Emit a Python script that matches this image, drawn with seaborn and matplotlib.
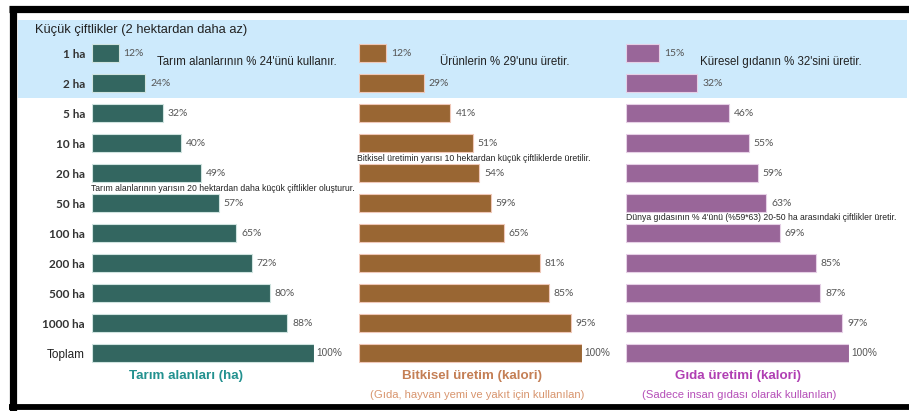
import matplotlib
matplotlib.use("Agg")
import matplotlib.pyplot as plt
import seaborn as sns
import pandas as pd
from matplotlib.patches import Rectangle
from matplotlib.lines import Line2D

categories = ["1 ha", "2 ha", "5 ha", "10 ha", "20 ha", "50 ha", "100 ha",
              "200 ha", "500 ha", "1000 ha", "Toplam"]
tarim = [12, 24, 32, 40, 49, 57, 65, 72, 80, 88, 100]
bitkisel = [12, 29, 41, 51, 54, 59, 65, 81, 85, 95, 100]
gida = [15, 32, 46, 55, 59, 63, 69, 85, 87, 97, 100]

titles = ["Tarım alanları (ha)", "Bitkisel üretim (kalori)", "Gıda üretimi (kalori)"]
subtitles = ["", "(Gıda, hayvan yemi ve yakıt için kullanılan)",
             "(Sadece insan gıdası olarak kullanılan)"]
top_notes = ["Tarım alanlarının % 24'ünü kullanır.", "Ürünlerin % 29'unu üretir.",
             "Küresel gıdanın % 32'sini üretir."]
band_title = "Küçük çiftlikler (2 hektardan daha az)"
notes = ["Tarım alanlarının yarısın 20 hektardan daha küçük çiftlikler oluşturur.",
         "Bitkisel üretimin yarısı 10 hektardan küçük çiftliklerde üretilir.",
         "Dünya gıdasının % 4'ünü (%59*63) 20-50 ha arasındaki çiftlikler üretir."]

sns.set_style("white")
plt.rcParams["font.family"] = ["Liberation Sans", "DejaVu Sans"]

W, H = 909, 411
fig = plt.figure(figsize=(W / 100, H / 100), dpi=100)
fig.patch.set_facecolor("white")

def fx(px):
    return px / W

def fy(py):
    return 1 - py / H

# light blue band (behind the axes)
band = Rectangle((fx(18), fy(98)), fx(907) - fx(18), fy(20) - fy(98),
                 transform=fig.transFigure, facecolor="#cdeafc",
                 edgecolor="none", zorder=-10)
fig.patches.append(band)

# border
for (x0, y0, x1, y1, lw) in [(9, 9.5, 909, 9.5, 5.2), (12.5, 6, 12.5, 411, 5.2),
                             (9, 407, 909, 407, 4.2)]:
    fig.lines.append(Line2D([fx(x0), fx(x1)], [fy(y0), fy(y1)],
                            transform=fig.transFigure, color="black", lw=lw,
                            solid_capstyle="butt", zorder=5))

colors = ["#336660", "#996633", "#996699"]
edges = ["#cfe3df", "#f0c8b8", "#e6d0e6"]
title_colors = ["#22918f", "#c47f55", "#b03fb3"]
sub_colors = ["#22918f", "#d8956e", "#b54fb8"]
lefts = [92, 359, 626]
widths = [222, 223, 223]
series = [tarim, bitkisel, gida]
title_x = [186, 472, 738]
sub_x = [186, 477, 739]
note_rows = [4.53, 3.53, 5.48]
note_dx = [-1, -2, 0]

top_px, bot_px = 38, 368
narrow = ["Liberation Sans Narrow", "Liberation Sans", "DejaVu Sans"]

for i in range(3):
    ax = fig.add_axes([fx(lefts[i]), fy(bot_px), widths[i] / W, (bot_px - top_px) / H])
    ax.patch.set_alpha(0)
    ax.set_zorder(1)
    df = pd.DataFrame({"cat": categories, "val": series[i]})
    sns.barplot(data=df, x="val", y="cat", ax=ax, color=colors[i], width=0.6,
                edgecolor=edges[i], linewidth=0.8, saturation=1, orient="h")
    ax.set_xlim(0, 100)
    ax.set_ylim(len(categories) - 0.5, -0.5)
    for s in ax.spines.values():
        s.set_visible(False)
    ax.set_xticks([])
    ax.set_xlabel("")
    ax.set_ylabel("")
    ax.tick_params(left=False, length=0)
    if i == 0:
        ax.set_yticks(range(len(categories)))
        ax.set_yticklabels(categories)
        ax.tick_params(axis="y", pad=5)
        for j, t in enumerate(ax.get_yticklabels()):
            if categories[j] == "Toplam":
                t.set_fontfamily(narrow)
                t.set_fontsize(8.5)
                t.set_color("#222222")
            else:
                t.set_fontfamily(["Lato", "DejaVu Sans"])
                t.set_fontweight("bold")
                t.set_fontsize(8.5)
                t.set_color("#333333")
    else:
        ax.set_yticks([])
    for j, v in enumerate(series[i]):
        if categories[j] == "Toplam":
            ax.annotate(f"{v}%", (v, j), xytext=(2, 0), textcoords="offset pixels",
                        ha="left", va="center", fontsize=7.2, color="#555555",
                        family=narrow, annotation_clip=False)
        else:
            ax.annotate(f"{v}%", (v, j), xytext=(5, 0), textcoords="offset pixels",
                        ha="left", va="center", fontsize=7.5, color="#555555",
                        family=["Lato", "DejaVu Sans"], annotation_clip=False)
    # half-way note, placed between rows
    ax.annotate(notes[i], (0, note_rows[i]), xytext=(note_dx[i], 0),
                textcoords="offset pixels", ha="left", va="center",
                fontsize=6.2, color="#222222", annotation_clip=False)
    fig.text(fx(title_x[i]), fy(376), titles[i], ha="center", va="center",
             fontsize=9.6, fontweight="bold", color=title_colors[i], family=narrow)
    if subtitles[i]:
        fig.text(fx(sub_x[i]), fy(395), subtitles[i], ha="center", va="center",
                 fontsize=8.1, color=sub_colors[i], family=narrow)

# annotations
fig.text(fx(35), fy(30), band_title, ha="left", va="center", fontsize=9.3, color="#222222")
for x, t in zip([157, 440, 700], top_notes):
    fig.text(fx(x), fy(62), t, ha="left", va="center", fontsize=8.3, color="#222222")

fig.savefig("out.png", dpi=100)
